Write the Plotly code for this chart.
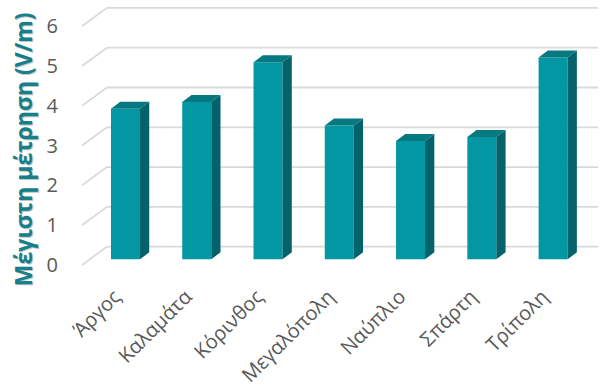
import plotly.graph_objects as go

# data
cities = ["Άργος", "Καλαμάτα", "Κόρινθος", "Μεγαλόπολη", "Ναύπλιο", "Σπάρτη", "Τρίπολη"]
max_values = [3.78, 3.95, 4.95, 3.36, 2.97, 3.07, 5.07]
y_ticks = [0, 1, 2, 3, 4, 5, 6]

# fake 3d look (axis units)
BAR_W = 0.407        # front face width
BAR_BASE = 0.143     # bars sit a bit behind the front plane
SIDE_DX = 0.13       # depth of the bar, x
SIDE_DY = 0.176      # depth of the bar, y
WALL_X0 = -0.61      # front edge of the floor / wall
WALL_X1 = -0.26      # back wall left edge
WALL_DY = 0.46       # back wall shift up
X_RIGHT = 6.63
LABEL_SHIFT = 0.15   # rotated category labels end a bit left of the bar centre

FRONT = "#0397a3"
SIDE = "#03626a"
TOP = "#067880"
GRID = "#d9d9d9"
TEXT = "#595959"

xs = list(range(len(cities)))

fig = go.Figure()

# front faces
fig.add_trace(go.Bar(
    x=xs,
    y=max_values,
    base=[BAR_BASE] * len(xs),
    width=BAR_W,
    marker=dict(color=FRONT, line=dict(width=0)),
    showlegend=False,
    hoverinfo="skip",
))

# side and top faces
side_x, side_y, top_x, top_y = [], [], [], []
for i, v in zip(xs, max_values):
    r = i + BAR_W / 2
    l = i - BAR_W / 2
    t = BAR_BASE + v
    side_x += [r, r + SIDE_DX, r + SIDE_DX, r, r, None]
    side_y += [BAR_BASE, BAR_BASE + SIDE_DY, t + SIDE_DY, t, BAR_BASE, None]
    top_x += [l, r, r + SIDE_DX, l + SIDE_DX, l, None]
    top_y += [t, t, t + SIDE_DY, t + SIDE_DY, t, None]

fig.add_trace(go.Scatter(x=side_x, y=side_y, mode="lines", fill="toself",
                         fillcolor=SIDE, line=dict(width=0, color=SIDE),
                         showlegend=False, hoverinfo="skip"))
fig.add_trace(go.Scatter(x=top_x, y=top_y, mode="lines", fill="toself",
                         fillcolor=TOP, line=dict(width=0, color=TOP),
                         showlegend=False, hoverinfo="skip"))

# wall gridlines + floor diagonals
for k in y_ticks:
    fig.add_shape(type="line", layer="below", x0=WALL_X0, y0=k, x1=WALL_X1, y1=k + WALL_DY,
                  line=dict(color=GRID, width=1.8))
    fig.add_shape(type="line", layer="below", x0=WALL_X1, y0=k + WALL_DY, x1=X_RIGHT, y1=k + WALL_DY,
                  line=dict(color=GRID, width=1.8))

title = "Μέγιστη μέτρηση (V/m)"
fig.add_annotation(text=f"<b>{title}</b>", xref="paper", yref="paper",
                   x=-0.114, y=0.468, xanchor="center", yanchor="middle",
                   xshift=1.5, yshift=-1.5, showarrow=False, textangle=-90,
                   font=dict(family="Open Sans", size=23, color="#c4c4c4"))
fig.add_annotation(text=f"<b>{title}</b>", xref="paper", yref="paper",
                   x=-0.114, y=0.468, xanchor="center", yanchor="middle",
                   showarrow=False, textangle=-90,
                   font=dict(family="Open Sans", size=23, color="#15808a"))

fig.update_layout(
    width=600,
    height=388,
    margin=dict(l=82, r=2, t=0, b=108, autoexpand=False),
    plot_bgcolor="white",
    paper_bgcolor="white",
    font=dict(family="Open Sans", color=TEXT),
    xaxis=dict(
        range=[WALL_X0, X_RIGHT],
        tickvals=[i - LABEL_SHIFT for i in xs],
        ticktext=cities,
        tickangle=-45,
        tickfont=dict(size=20, color=TEXT),
        showgrid=False,
        zeroline=False,
        showline=False,
        ticks="",
    ),
    yaxis=dict(
        range=[-0.377, 6.658],
        tickvals=y_ticks,
        tickfont=dict(size=20, color=TEXT),
        showgrid=False,
        zeroline=False,
        showline=False,
        ticks="outside",
        ticklen=19,
        tickcolor="rgba(0,0,0,0)",
    ),
)

fig.write_html("out.html", config={"displayModeBar": False},
               post_script="document.body.style.margin='0';")
